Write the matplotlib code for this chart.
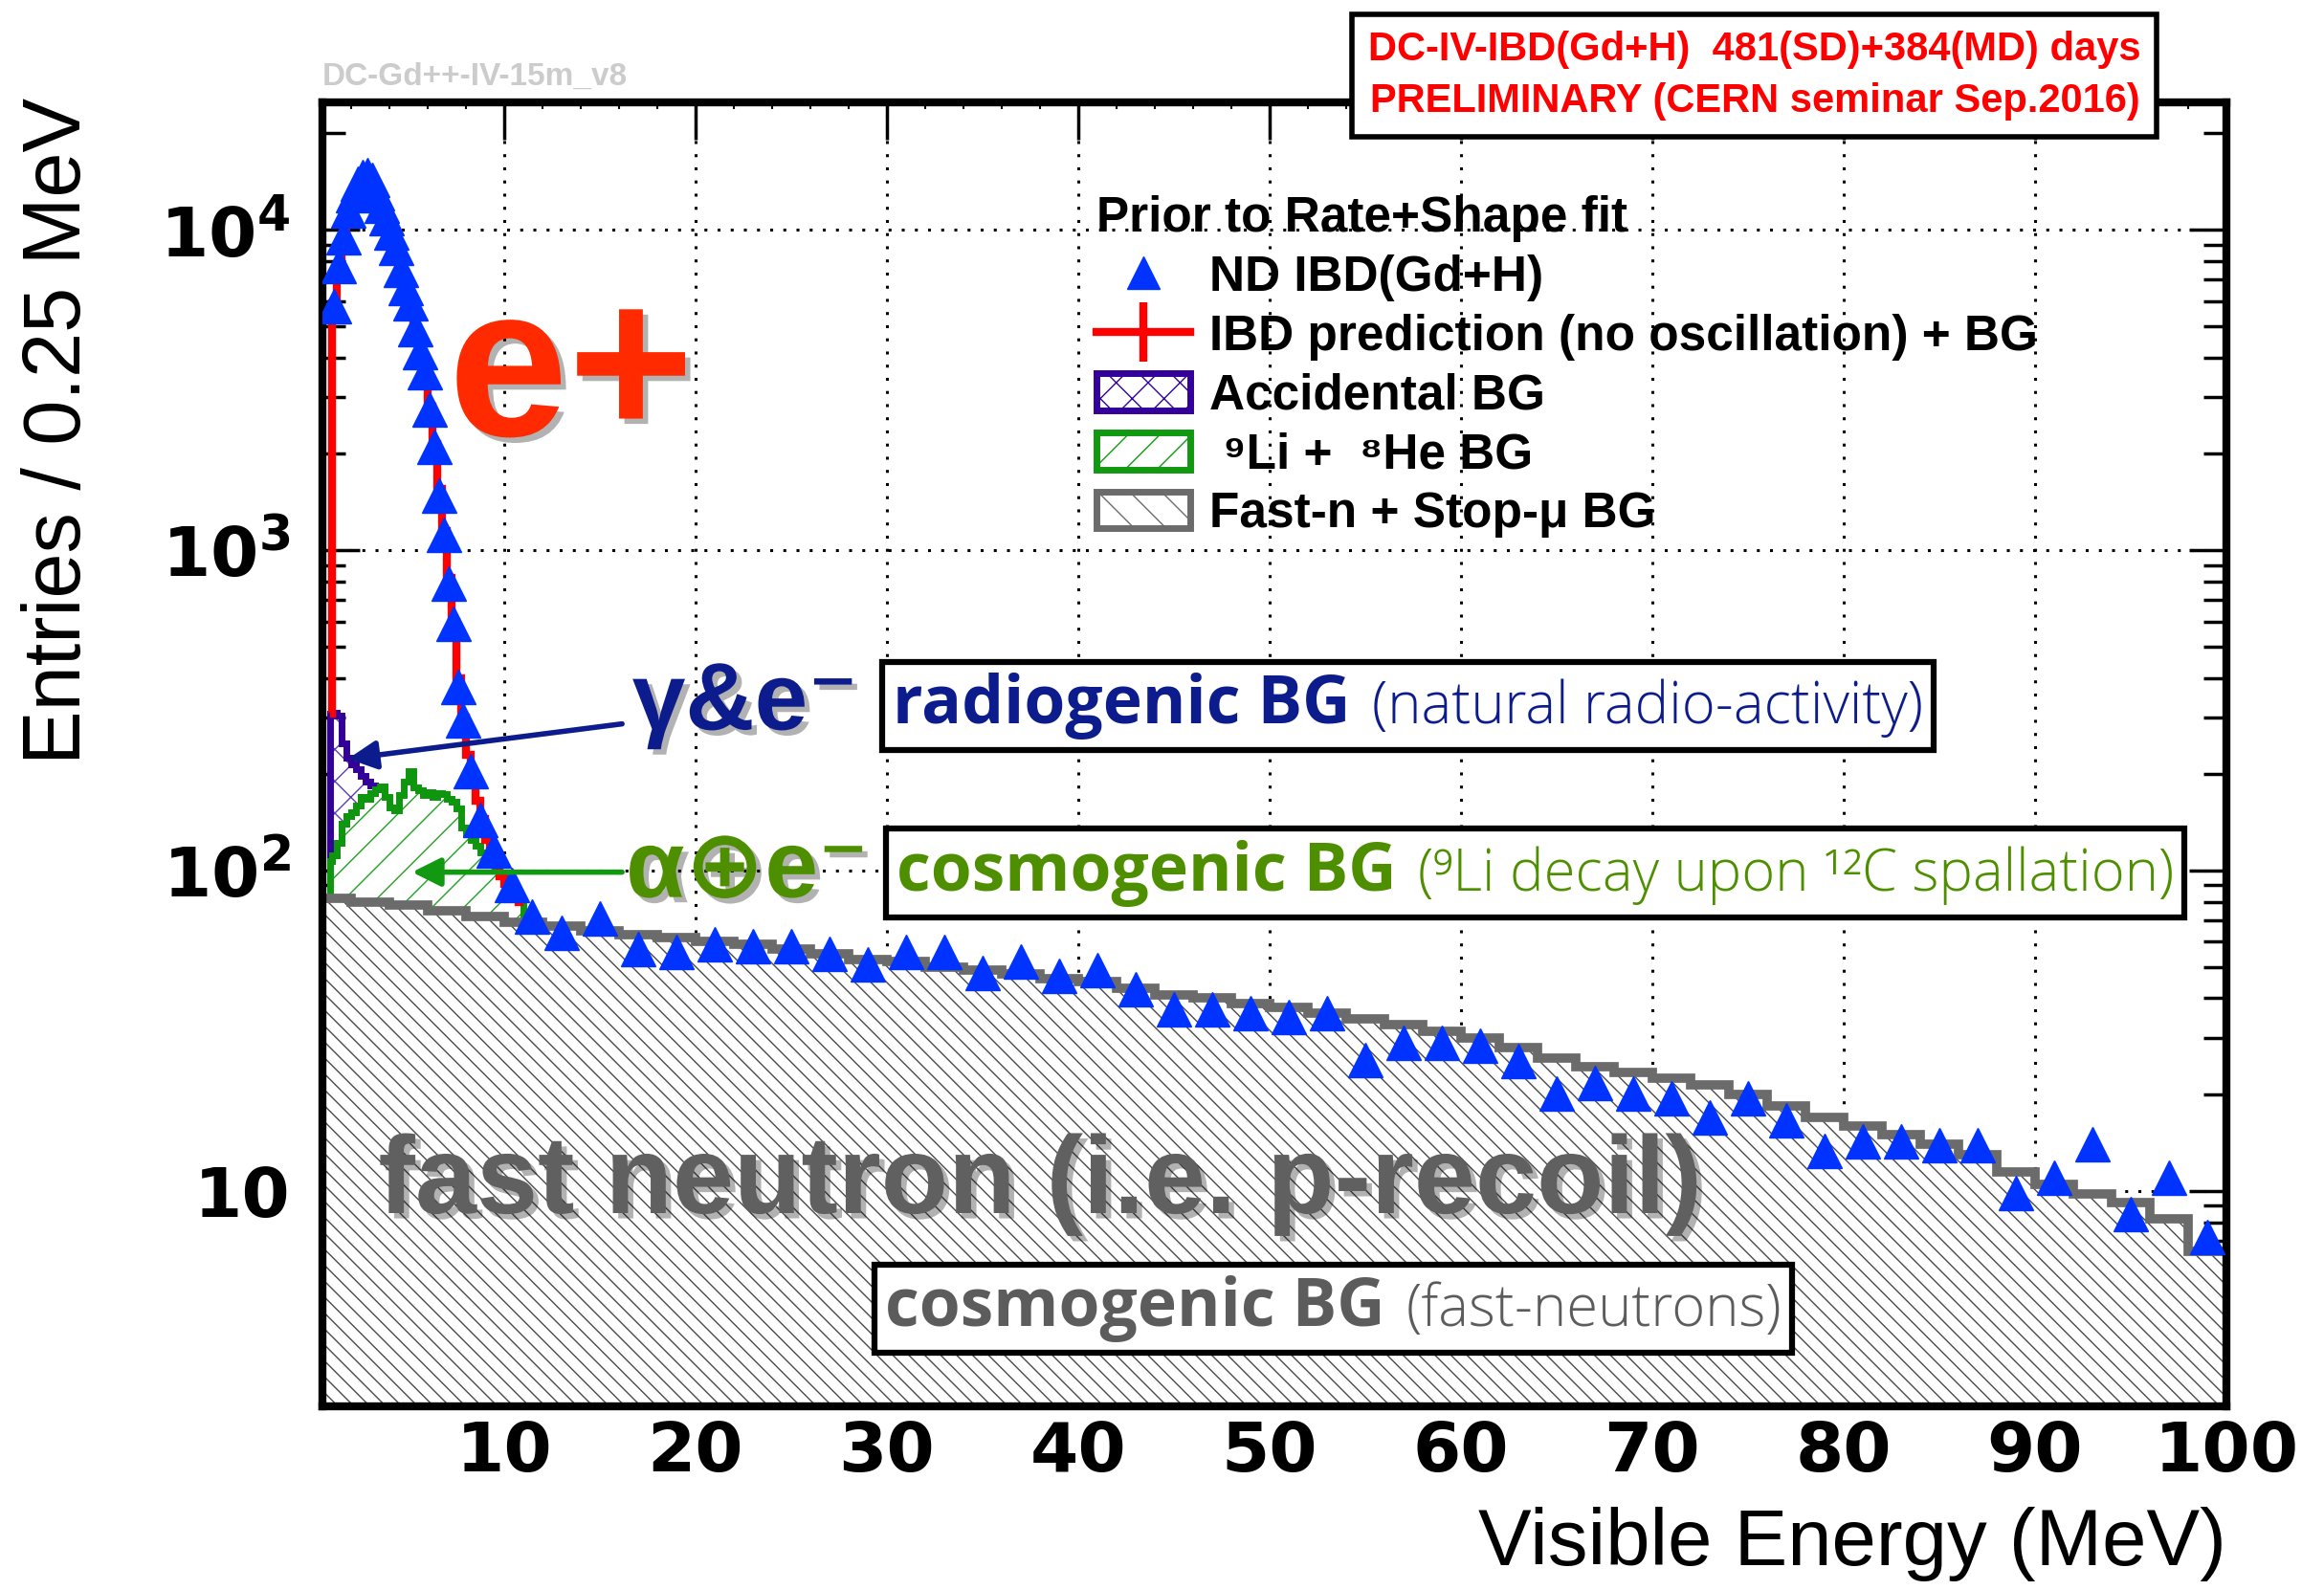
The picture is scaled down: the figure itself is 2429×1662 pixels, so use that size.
import numpy as np
import matplotlib
matplotlib.use("Agg")
import matplotlib.pyplot as plt
import matplotlib.patheffects as pe
from matplotlib import font_manager
from matplotlib.lines import Line2D
from matplotlib.patches import Patch
from matplotlib.offsetbox import TextArea, HPacker, AnnotationBbox
from matplotlib.ticker import MultipleLocator, LogLocator, NullFormatter

# ---- values ----
# ND IBD(Gd+H) data points (bin centres in MeV, entries / 0.25 MeV)
ibd_e = [1.125, 1.375, 1.625, 1.875, 2.125, 2.375, 2.625, 2.875, 3.125, 3.375,
         3.625, 3.875, 4.125, 4.375, 4.625, 4.875, 5.125, 5.375, 5.625, 5.875,
         6.125, 6.375, 6.625, 6.875, 7.125, 7.375, 7.625, 7.875, 8.25, 8.75,
         9.45, 10.4, 11.45,
         13, 15, 17, 19, 21, 23, 25, 27, 29, 31, 33, 35, 37, 39, 41, 43, 45, 47,
         49, 51, 53, 55, 57, 59, 61, 63, 65, 67, 69, 71, 73, 75, 77, 79, 81, 83,
         85, 87, 89, 91, 93, 95, 97, 99]
ibd_n = [5800, 7700, 9500, 11500, 12800, 13900, 14600, 14800, 14300, 13000,
         11900, 10900, 9800, 8800, 7500, 6600, 5900, 4900, 4150, 3600,
         2750, 2100, 1480, 1120, 790, 590, 375, 295, 204, 144,
         116, 90, 72,
         64, 71, 57, 56, 59, 58, 58, 55, 51, 56, 56, 48, 52, 47, 49, 42.6, 37, 37,
         36, 35, 36, 25.6, 29, 29, 28.5, 25.5, 20.2, 21.8, 20.2, 19.5, 17.0, 19.5,
         16.6, 13.4, 14.3, 14.3, 13.9, 13.9, 9.9, 11.0, 14.0, 8.5, 11.0, 7.2]

# IBD prediction (no oscillation) + BG, 0.25 MeV bins from 1 to 11 MeV
pred_edges = np.arange(1.0, 11.01, 0.25)
pred_n = [5900, 7600, 9400, 11300, 12700, 13800, 14500, 14700, 14200, 13200,
          12000, 10900, 9800, 8700, 7600, 6600, 5800, 4900, 4100, 3500,
          2800, 2150, 1550, 1150, 820, 600, 400, 300, 230, 195,
          165, 145, 125, 112, 104, 96, 91, 88, 84, 80]

# stacked backgrounds (top of each stack layer)
low_edges = np.r_[0.9, pred_edges]
li_top = [107, 112, 122, 140, 148, 152, 160, 170, 168, 175,
          180, 183, 170, 158, 154, 172, 190, 205, 182, 178,
          172, 176, 170, 175, 173, 168, 164, 156, 136, 130,
          125, 120, 114, 110, 105, 100, 96, 92, 88, 84, 80]
acc_top = [310, 312, 305, 250, 225, 215, 207, 198, 190, 184, 182]

fastn_edges = np.r_[0.5, np.arange(2, 101, 2)]
fastn_top = [82, 80, 78, 75, 72, 69, 67, 65, 63, 62,
             60, 59, 57, 55, 53, 52, 50, 49, 47.5, 46,
             45, 43, 41, 40, 38.5, 37.5, 36, 34.5, 33, 31.5,
             30, 28, 26, 24.5, 23.5, 22.5, 21.5, 20, 18.5, 17,
             16, 15, 14, 13, 11.5, 10.5, 9.8, 9.2, 8.2, 6.5]

x_ticks = [10, 20, 30, 40, 50, 60, 70, 80, 90, 100]
y_ticks = [10, 100, 1000, 10000]
y_tick_labels = ['10', r'$\mathbf{10^{2}}$', r'$\mathbf{10^{3}}$', r'$\mathbf{10^{4}}$']

leg_labels = ['ND IBD(Gd+H)', 'IBD prediction (no oscillation) + BG',
              'Accidental BG', ' \u2079Li +  \u2078He BG', 'Fast-n + Stop-\u03bc BG']


def weights(name):
    out = set()
    for f in font_manager.fontManager.ttflist:
        if f.name == name:
            w = f.weight
            out.add(w if isinstance(w, int) else font_manager.weight_dict.get(w, 400))
    return out


light_font = 'DejaVu Sans'
for cand in ['Open Sans', 'Lato', 'Noto Sans']:
    if any(w <= 300 for w in weights(cand)):
        light_font = cand
        break
bold_font = 'Open Sans' if 'Open Sans' in {f.name for f in font_manager.fontManager.ttflist} else 'DejaVu Sans'

plt.rcParams['hatch.linewidth'] = 1.0

fig = plt.figure(figsize=(24.29, 16.62), dpi=100)
ax = fig.add_axes([0.1387, 0.1155, 0.8193, 0.8201])
ax.set_yscale('log')
ax.set_xlim(0.5, 100)
ax.set_ylim(2.13, 2.5e4)
ax.set_axisbelow(True)
ax.grid(True, which='major', color='black', lw=2.2, ls=(0, (1, 3.5)))

# stacked histograms
centers = 0.5 * (low_edges[:-1] + low_edges[1:])
fastn_low = np.asarray(fastn_top)[np.searchsorted(fastn_edges, centers) - 1]
nacc = len(acc_top)

ax.stairs(fastn_top, fastn_edges, baseline=1e-2, fill=True, facecolor='white',
          edgecolor='#4a4a4a', hatch='\\\\', lw=0, zorder=1)
ax.stairs(li_top, low_edges, baseline=fastn_low, fill=True, facecolor='white',
          edgecolor='#22a022', hatch='/', lw=0, zorder=1.1)
ax.stairs(acc_top, low_edges[:nacc + 1], baseline=li_top[:nacc], fill=True,
          facecolor='white', edgecolor='#5b3fb0', hatch='x', lw=0, zorder=1.2)
ax.stairs(acc_top, low_edges[:nacc + 1], baseline=li_top[:nacc], color='#330099',
          lw=5, zorder=2)
ax.stairs(li_top, low_edges, baseline=fastn_low, color='#0e960e', lw=5, zorder=2.1)
ax.stairs(fastn_top, fastn_edges, baseline=None, color='#6b6b6b', lw=7, zorder=2.2)

# prediction and data
ax.stairs(np.r_[acc_top[0], pred_n], low_edges, baseline=None, color='red', lw=6, zorder=3)
ax.plot(ibd_e, ibd_n, ls='none', marker='^', ms=26, color='#0033ff', zorder=4)

# axes styling
ax.set_xticks(x_ticks)
ax.set_xticklabels([str(t) for t in x_ticks], fontsize=52, fontweight='bold', family='DejaVu Sans')
ax.xaxis.set_minor_locator(MultipleLocator(2))
ax.set_yticks(y_ticks)
ax.set_yticklabels(y_tick_labels, fontsize=52, fontweight='bold', family='DejaVu Sans')
ax.yaxis.set_minor_locator(LogLocator(10, subs=np.arange(2, 10), numticks=20))
ax.yaxis.set_minor_formatter(NullFormatter())
ax.tick_params(which='both', direction='in', top=True, right=True)
ax.tick_params(which='major', length=28, width=2.5)
ax.tick_params(axis='x', which='major', pad=10)
ax.tick_params(axis='y', which='major', pad=24)
ax.tick_params(axis='y', which='minor', length=17, width=2.5)
ax.tick_params(axis='x', which='minor', length=5, width=1.5)
for s in ax.spines.values():
    s.set_linewidth(6)

ax.set_ylabel('Entries / 0.25 MeV', fontsize=61, family='Liberation Sans', loc='top')
ax.yaxis.set_label_coords(-0.118, 1.004)
ax.set_xlabel('Visible Energy (MeV)', fontsize=60, family='Liberation Sans', loc='right')
ax.xaxis.set_label_coords(1.0, -0.077)

# legend
legprop = dict(family=['Liberation Sans', 'DejaVu Sans'], weight='bold', size=37)
handles = [Line2D([], [], ls='none', marker='^', ms=24, color='#0033ff'),
           Line2D([], [], color='red', lw=6, marker='|', ms=44, mew=6),
           Patch(facecolor='white', edgecolor='#330099', hatch='x', lw=5),
           Patch(facecolor='white', edgecolor='#119911', hatch='/', lw=5),
           Patch(facecolor='white', edgecolor='#6b6b6b', hatch='\\', lw=5)]
ax.legend(handles, leg_labels, loc='upper left', bbox_to_anchor=(0.4065, 0.929),
          frameon=False, prop=legprop, title='Prior to Rate+Shape fit',
          title_fontproperties=legprop, alignment='left', handlelength=1.9,
          handleheight=0.78, handletextpad=0.4, labelspacing=0.25, borderpad=0,
          borderaxespad=0)

# big hand-written style labels
shadow = [pe.withSimplePatchShadow(offset=(4, -4), shadow_rgbFace='black', alpha=0.3)]
ax.text(13.5, 3400, 'e+', color='#ff2a00', fontsize=162, fontweight='bold',
        family='Liberation Sans', ha='center', va='center', path_effects=shadow, zorder=7)
ax.text(22.6, 330, '\u03b3&e\u207b', color='#0c1c8c', fontsize=72, fontweight='bold',
        family=['Liberation Sans', 'DejaVu Sans'], ha='center', va='center',
        path_effects=shadow, zorder=7)
ax.text(22.7, 99, '\u03b1\u2295e\u207b', color='#4e8f00', fontsize=72, fontweight='bold',
        family=['Liberation Sans', 'DejaVu Sans'], ha='center', va='center',
        path_effects=shadow, zorder=7)
ax.text(38, 10.5, 'fast neutron (i.e. p-recoil)', color='#606060', fontsize=83,
        fontweight='bold', family='Liberation Sans', ha='center', va='center',
        path_effects=shadow, zorder=7)

ax.annotate('', xy=(1.7, 223), xytext=(16.3, 288),
            arrowprops=dict(arrowstyle='-|>', lw=4, color='#0c1c8c', mutation_scale=45), zorder=7)
ax.annotate('', xy=(5.05, 99), xytext=(16.3, 99),
            arrowprops=dict(arrowstyle='-|>', lw=4, color='#119911', mutation_scale=45), zorder=7)


def note_box(bold, light, color, xy):
    t1 = TextArea(bold, textprops=dict(color=color, fontsize=50, fontweight='bold',
                                       family=[bold_font, 'DejaVu Sans']))
    t2 = TextArea(light, textprops=dict(color=color, fontsize=43, fontweight='light',
                                        family=[light_font, 'DejaVu Sans']))
    pack = HPacker(children=[t1, t2], align='baseline', pad=0, sep=16)
    ab = AnnotationBbox(pack, xy, xycoords='axes fraction', box_alignment=(0.5, 0.5),
                        frameon=True,
                        bboxprops=dict(boxstyle='square,pad=0.8', lw=4.5, ec='black', fc='white'),
                        zorder=6)
    ax.add_artist(ab)


note_box('radiogenic BG', '(natural radio-activity)', '#0c1c8c', (0.570, 0.537))
note_box('cosmogenic BG', '(\u2079Li decay upon \u00b9\u00b2C spallation)', '#4e8f00', (0.637, 0.409))
note_box('cosmogenic BG', '(fast-neutrons)', '#5c5c5c', (0.531, 0.075))

ax.text(0.0, 1.008, 'DC-Gd++-IV-15m_v8', transform=ax.transAxes, color='#cccccc',
        fontsize=24, fontweight='bold', family='Liberation Sans', va='bottom', ha='left')

fig.text(0.755, 0.9525, 'DC-IV-IBD(Gd+H)  481(SD)+384(MD) days\nPRELIMINARY (CERN seminar Sep.2016)',
         color='red', fontsize=30, fontweight='bold', family='Liberation Sans',
         ha='center', va='center', linespacing=1.45,
         bbox=dict(boxstyle='square,pad=0.4', fc='white', ec='black', lw=4))

fig.savefig('out.png', dpi=100)
